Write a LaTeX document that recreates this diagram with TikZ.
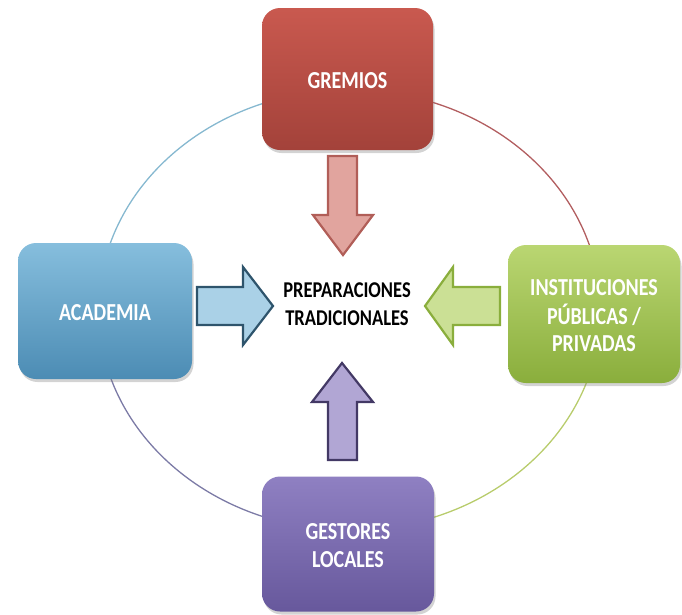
\documentclass[tikz,border=0pt]{standalone}
\usepackage{fontspec}
\usepackage{graphicx}
\setmainfont{Carlito}
\usetikzlibrary{shadows}
\definecolor{redT}{HTML}{C9594F}
\definecolor{redB}{HTML}{A3423A}
\definecolor{bluT}{HTML}{86BEDD}
\definecolor{bluB}{HTML}{4C8CB4}
\definecolor{grnT}{HTML}{BAD672}
\definecolor{grnB}{HTML}{8AAE3C}
\definecolor{purT}{HTML}{8F80C2}
\definecolor{purB}{HTML}{67589C}
\definecolor{redArc}{HTML}{B25E60}
\definecolor{bluArc}{HTML}{86B8D0}
\definecolor{purArc}{HTML}{7C7BA6}
\definecolor{grnArc}{HTML}{B8CC6C}
\newcommand{\talltext}[1]{\scalebox{1}[1.22]{\begin{tabular}{@{}c@{}}#1\end{tabular}}}
\newcommand{\boxtext}[1]{\raisebox{-4pt}[\height][\depth]{\talltext{#1}}}
\tikzset{
  box/.style={rounded corners=18pt, inner sep=0pt, align=center, text=white,
    font=\bfseries\fontsize{20}{22.5}\selectfont,
    drop shadow={shadow xshift=1.5pt, shadow yshift=-3pt, opacity=0.35}},
  barrow/.style={line width=2.2pt, line join=miter},
  ring/.style={line width=1.3pt},
}
\begin{document}
\begin{tikzpicture}[x=1pt,y=-1pt]
\useasboundingbox (0,0) rectangle (682,614);
\coordinate (C) at (349.5,310);
% ring
\draw[ring,grnArc] (C) ++(251,0) arc[start angle=0,end angle=90,x radius=251,y radius=220];
\draw[ring,purArc] (C) ++(0,220) arc[start angle=90,end angle=180,x radius=251,y radius=220];
\draw[ring,bluArc] (C) ++(-251,0) arc[start angle=180,end angle=270,x radius=251,y radius=220];
\draw[ring,redArc] (C) ++(0,-220) arc[start angle=270,end angle=360,x radius=251,y radius=220];
% boxes
\node[box, minimum width=171pt, minimum height=142pt, top color=redT, bottom color=redB] (grem) at (347.5,79) {\boxtext{GREMIOS}};
\node[box, minimum width=174pt, minimum height=136pt, top color=bluT, bottom color=bluB] (acad) at (105,311) {\boxtext{ACADEMIA}};
\node[box, minimum width=172pt, minimum height=138pt, top color=grnT, bottom color=grnB] (inst) at (594,314) {\boxtext{INSTITUCIONES\\PÚBLICAS /\\PRIVADAS}};
\node[box, minimum width=172pt, minimum height=135pt, top color=purT, bottom color=purB] (gest) at (348,544) {\boxtext{GESTORES\\LOCALES}};
% centre
\node[inner sep=0pt, font=\bfseries\fontsize{18.5}{22.5}\selectfont] (prep) at (347,306) {\talltext{PREPARACIONES\\TRADICIONALES}};
% block arrows
\draw[barrow, draw=redB!85!white, fill=redT!55!white] (328,156) -- (357,156) -- (357,215) -- (373,215) -- (343,255) -- (313,215) -- (328,215) -- cycle;
\draw[barrow, draw=bluB!60!black, fill=bluT!70!white] (197,287) -- (243,287) -- (243,267) -- (273,306) -- (243,345) -- (243,325) -- (197,325) -- cycle;
\draw[barrow, draw=grnB, fill=grnT!75!white] (500,287) -- (453,287) -- (453,267) -- (425,306) -- (453,345) -- (453,325) -- (500,325) -- cycle;
\draw[barrow, draw=purB!65!black, fill=purT!70!white] (328,460) -- (357,460) -- (357,402) -- (373,402) -- (342,363) -- (312,402) -- (328,402) -- cycle;
\end{tikzpicture}
\end{document}
